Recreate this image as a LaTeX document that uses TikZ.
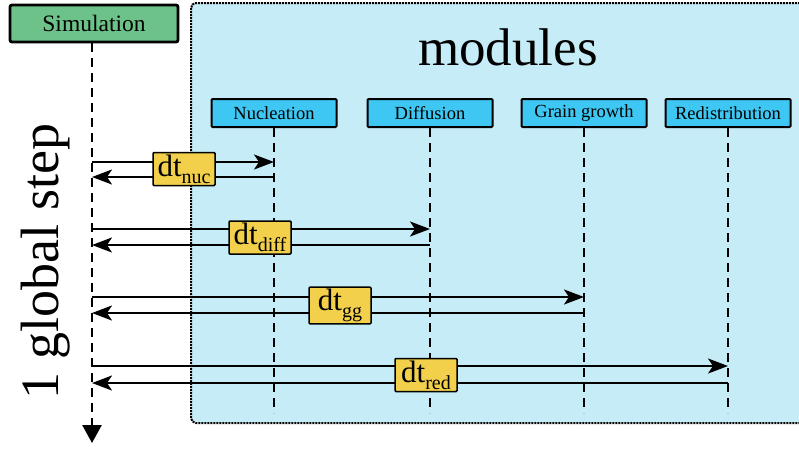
\documentclass[tikz,border=0pt]{standalone}
\usepackage{fontspec}
\setmainfont{Liberation Serif}
\usetikzlibrary{arrows.meta,positioning}
\definecolor{simgreen}{HTML}{6CC288}
\definecolor{modbg}{HTML}{C6ECF8}
\definecolor{modblue}{HTML}{3EC7F2}
\definecolor{dtyellow}{HTML}{F2D04B}
\newcommand{\dtlabel}[1]{dt{\fontsize{20}{20}\selectfont\raisebox{-7pt}{#1}}}

\begin{document}
\begin{tikzpicture}[
    x=1pt, y=-1pt,
    simbox/.style={draw, line width=2.8pt, fill=simgreen, rounded corners=2pt, minimum width=168pt, minimum height=37pt, font=\fontsize{23.5}{25}\selectfont},
    modbox/.style={draw, line width=2pt, fill=modblue, rounded corners=1pt, minimum width=125pt, minimum height=28pt, inner sep=0pt, font=\fontsize{18.5}{20}\selectfont},
    dtbox/.style={draw, line width=1.5pt, fill=dtyellow, rounded corners=1pt, minimum width=62pt, minimum height=33pt, inner sep=2pt, font=\fontsize{31}{31}\selectfont},
    lifeline/.style={line width=2.5pt, dash pattern=on 9pt off 6pt},
    msg/.style={line width=2.2pt, -{Stealth[length=20pt, width=15pt, inset=5pt]}},
]
    \useasboundingbox (0,0) rectangle (799,448);

    % Modules background
    \draw[fill=modbg, line width=2pt, dash pattern=on 2pt off 1pt, rounded corners=5pt]
        (191,3) rectangle (815,423);
    \node[anchor=base, font=\fontsize{53}{55}\selectfont] (modtitle) at (508,65) {modules};

    % Participants
    \node[simbox] (sim) at (94,23.5) {Simulation};
    \node[modbox] (nuc) at (274,113) {Nucleation};
    \node[modbox] (diff) at (430,113) {Diffusion};
    \node[modbox] (gg) at (584,113) {Grain growth};
    \node[modbox] (red) at (728,113) {Redistribution};

    % Lifelines
    \coordinate (sim end) at (92,443);
    \coordinate (nuc end) at (274,413);
    \coordinate (diff end) at (430,413);
    \coordinate (gg end) at (584,413);
    \coordinate (red end) at (728,413);
    \draw[lifeline, -{Triangle[length=18pt, width=19pt]}] (sim.south -| sim end) -- (sim end);
    \draw[lifeline] (nuc) -- (nuc end);
    \draw[lifeline] (diff) -- (diff end);
    \draw[lifeline] (gg) -- (gg end);
    \draw[lifeline] (red) -- (red end);

    % Step label
    \node[rotate=90, anchor=base, font=\fontsize{54}{56}\selectfont] (steplabel) at (58,262) {1 global step};

    % --- Nucleation ---
    \coordinate (s1a) at (92,162);  \coordinate (m1a) at (274,162);
    \coordinate (s1b) at (92,177);  \coordinate (m1b) at (274,177);
    \draw[msg] (s1a) -- (m1a);
    \draw[msg] (m1b) -- (s1b);
    \node[dtbox] (dtnuc) at (184,169) {\dtlabel{nuc}};

    % --- Diffusion ---
    \coordinate (s2a) at (92,229);  \coordinate (m2a) at (430,229);
    \coordinate (s2b) at (92,245);  \coordinate (m2b) at (430,245);
    \draw[msg] (s2a) -- (m2a);
    \draw[msg] (m2b) -- (s2b);
    \node[dtbox] (dtdiff) at (260,237.5) {\dtlabel{diff}};

    % --- Grain growth ---
    \coordinate (s3a) at (92,297);  \coordinate (m3a) at (584,297);
    \coordinate (s3b) at (92,313);  \coordinate (m3b) at (584,313);
    \draw[msg] (s3a) -- (m3a);
    \draw[msg] (m3b) -- (s3b);
    \node[dtbox] (dtgg) at (340,305.5) {\dtlabel{gg}};

    % --- Redistribution ---
    \coordinate (s4a) at (92,366);  \coordinate (m4a) at (728,366);
    \coordinate (s4b) at (92,383);  \coordinate (m4b) at (728,383);
    \draw[msg] (s4a) -- (m4a);
    \draw[msg] (m4b) -- (s4b);
    \node[dtbox] (dtred) at (426,375) {\dtlabel{red}};

\end{tikzpicture}
\end{document}
